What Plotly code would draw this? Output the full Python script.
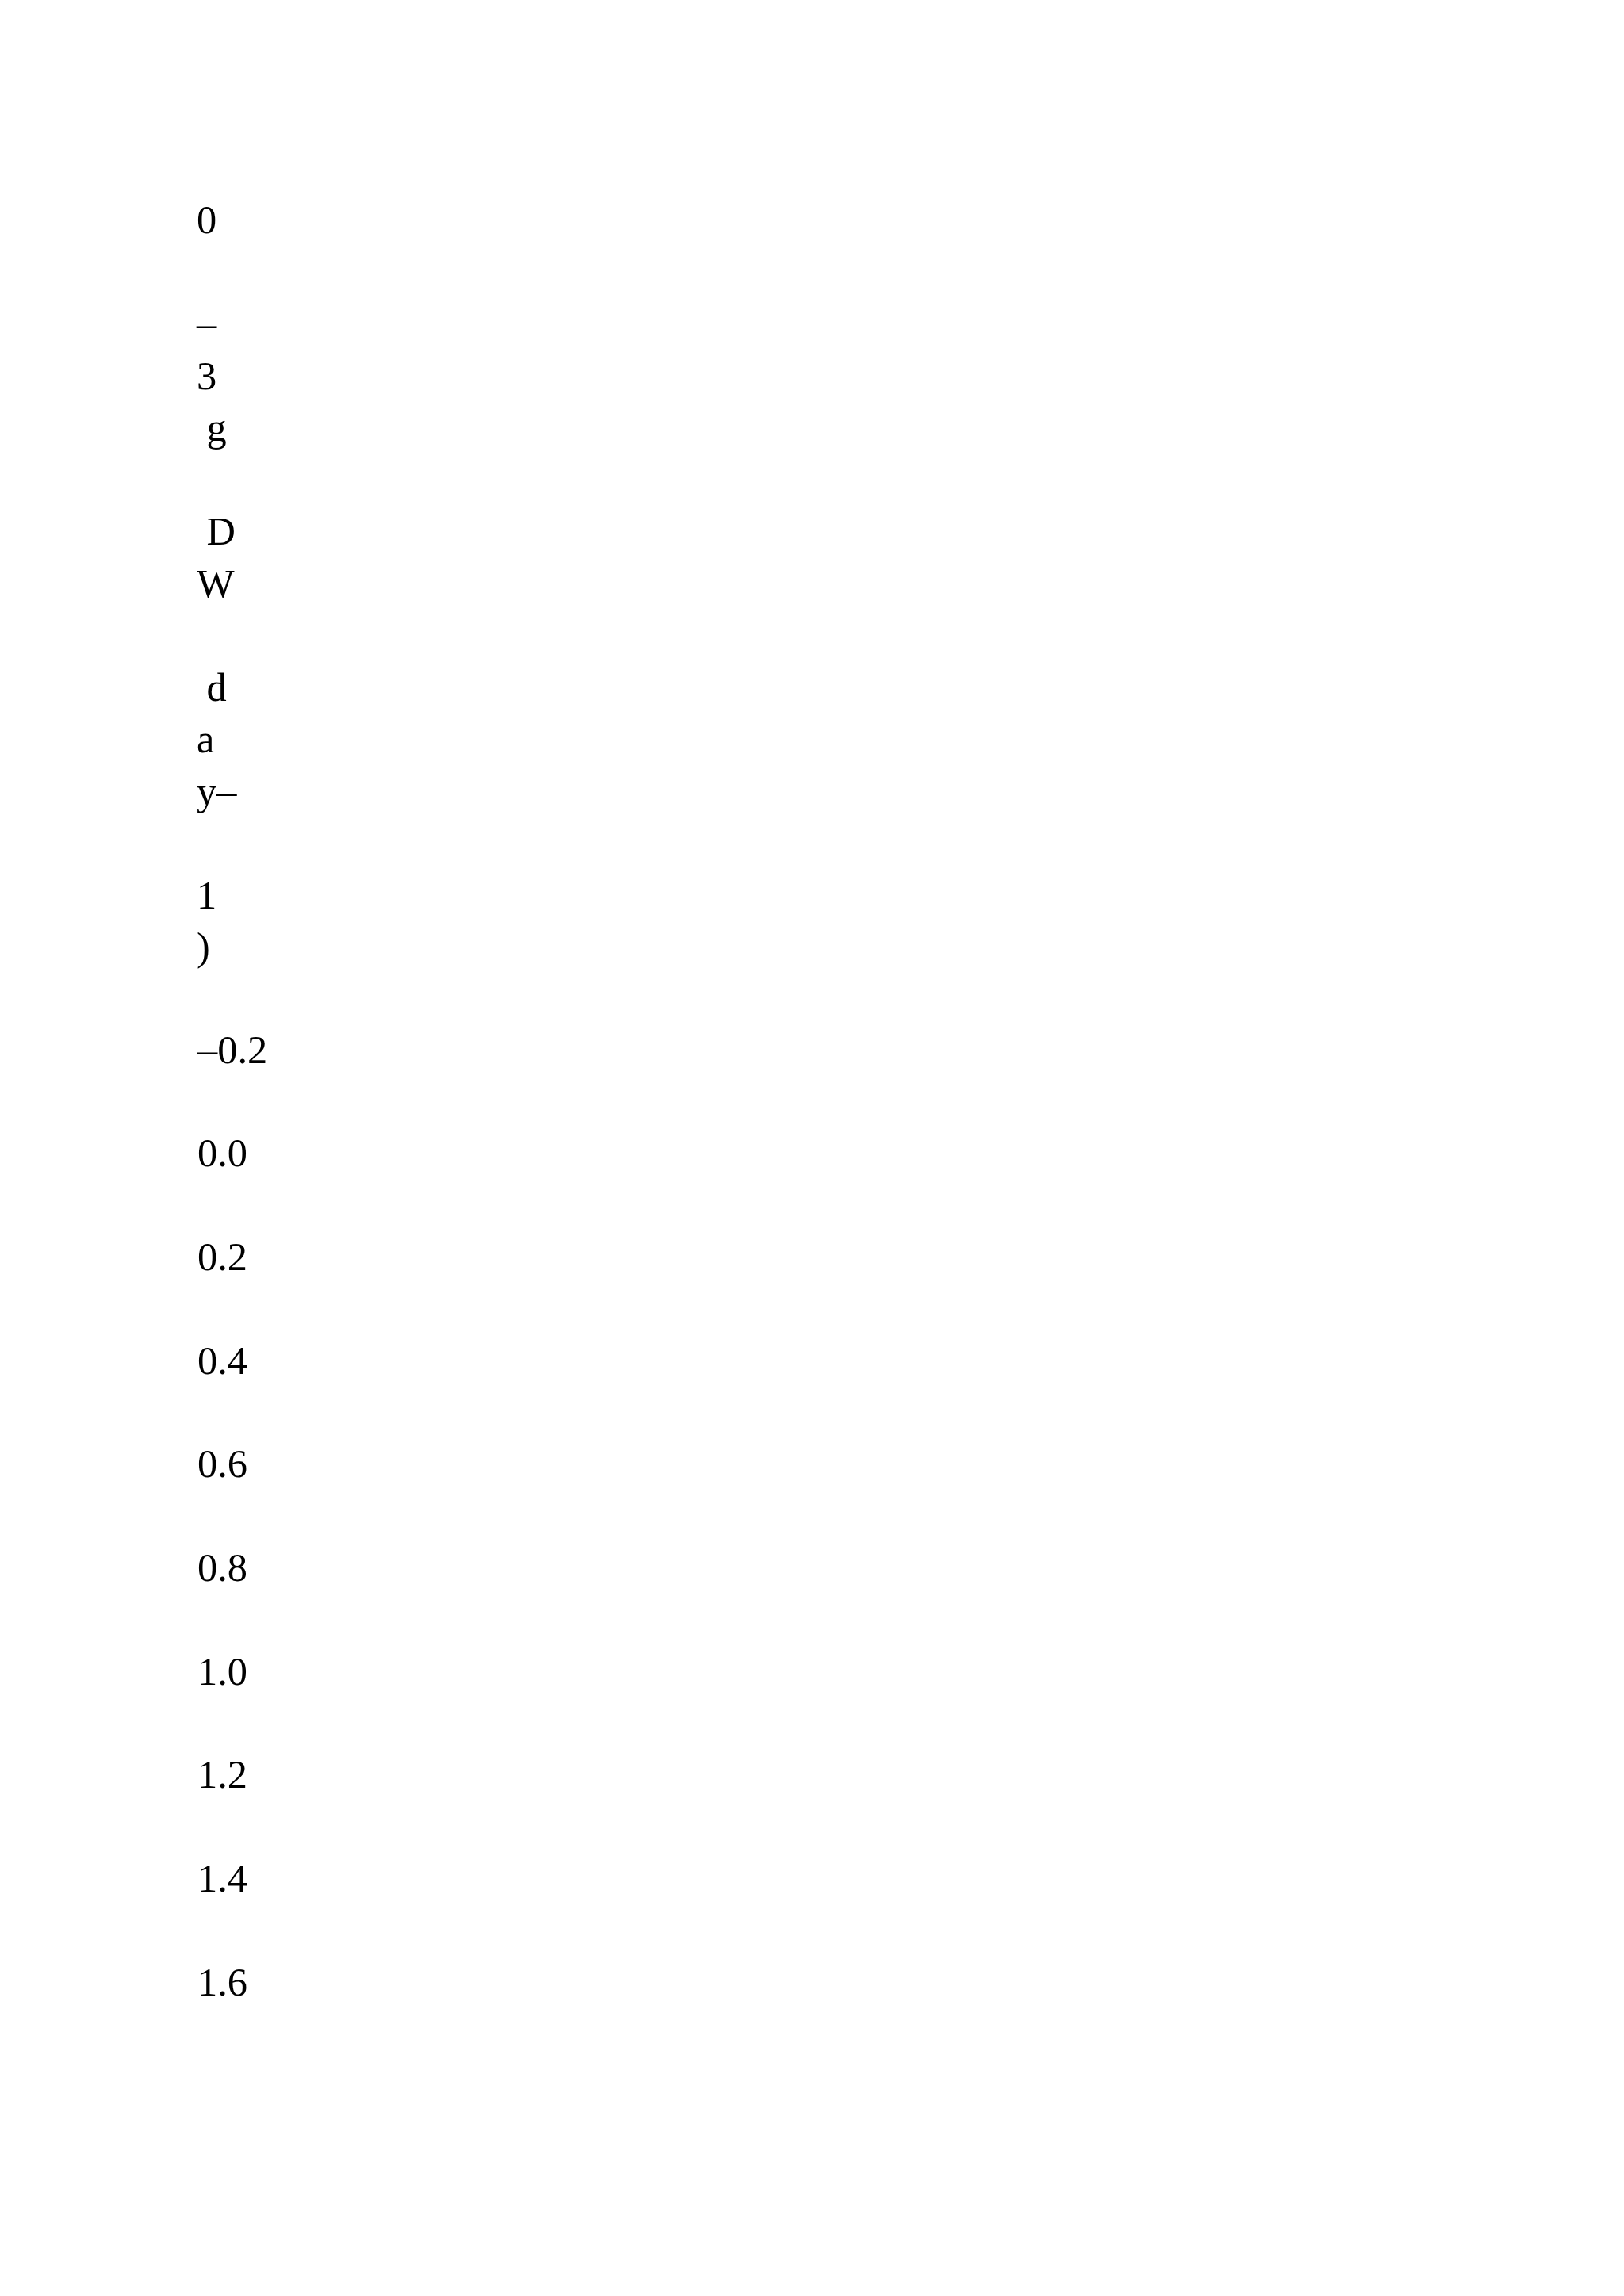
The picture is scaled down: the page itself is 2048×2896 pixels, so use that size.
"""
Broken y-axis label and ticks, as left on the page after extraction
"""

import plotly.graph_objects as go

# fragments of the axis title, one per text line ("" = empty line)
title_lines = ['0', '', '–', '3', '\u00a0g', '', '\u00a0D', 'W', '',
               '\u00a0d', 'a', 'y–', '', '1', ')']

# y ticks
tick_vals = [-0.2, 0.0, 0.2, 0.4, 0.6, 0.8, 1.0, 1.2, 1.4, 1.6]
tick_text = ['–0.2', '0.0', '0.2', '0.4', '0.6', '0.8', '1.0', '1.2', '1.4', '1.6']

FONT = 'Liberation Serif'
SIZE = 50.4

fig = go.Figure()

# empty trace so the axis is drawn
fig.add_trace(go.Scatter(x=[None], y=[None], mode='markers', showlegend=False,
                         hoverinfo='skip'))

fig.update_layout(
    width=2032,
    height=2880,
    margin=dict(l=238, r=0, t=0, b=0),
    paper_bgcolor='white',
    plot_bgcolor='white',
    showlegend=False,
    font=dict(family=FONT, size=SIZE, color='black'),
    xaxis=dict(visible=False, range=[0, 1]),
    yaxis=dict(
        range=[2.1955, -2.2129],
        tickvals=tick_vals,
        ticktext=tick_text,
        ticklabelposition='inside',
        ticks='',
        showgrid=False,
        zeroline=False,
        showline=False,
        tickfont=dict(family=FONT, size=SIZE, color='black'),
    ),
)

fig.add_annotation(
    x=0, y=1 - 239 / 2880,
    xref='paper', yref='paper',
    xanchor='left', yanchor='top',
    xshift=-1,
    align='left',
    text='<br>'.join(title_lines),
    showarrow=False,
    font=dict(family=FONT, size=SIZE, color='black'),
)

fig.write_html('out.html')
